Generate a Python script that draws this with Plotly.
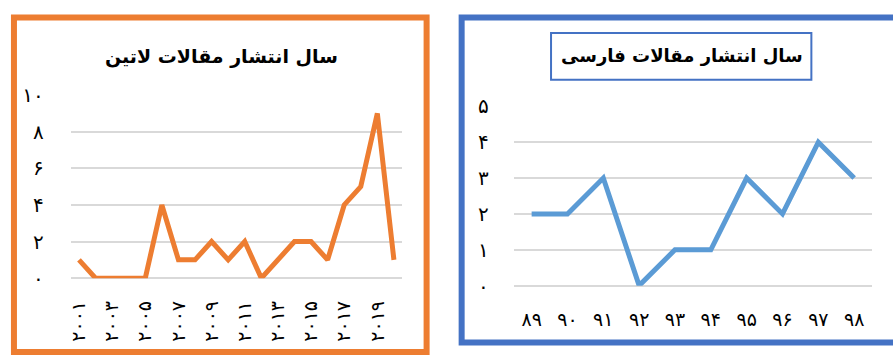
import plotly.graph_objects as go

# ---- data ----
latin_years = [str(y) for y in range(2001, 2021)]
latin_counts = [1, 0, 0, 0, 0, 4, 1, 1, 2, 1, 2, 0, 1, 2, 2, 1, 4, 5, 9, 1]
latin_tick_years = ["2001", "2003", "2005", "2007", "2009", "2011", "2013", "2015", "2017", "2019"]
latin_tick_text = ["۲۰۰۱", "۲۰۰۳", "۲۰۰۵", "۲۰۰۷", "۲۰۰۹", "۲۰۱۱", "۲۰۱۳", "۲۰۱۵", "۲۰۱۷", "۲۰۱۹"]
latin_y_vals = [0, 2, 4, 6, 8, 10]
latin_y_text = ["۰", "۲", "۴", "۶", "۸", "۱۰"]

farsi_years = ["89", "90", "91", "92", "93", "94", "95", "96", "97", "98"]
farsi_counts = [2, 2, 3, 0, 1, 1, 3, 2, 4, 3]
farsi_tick_text = ["۸۹", "۹۰", "۹۱", "۹۲", "۹۳", "۹۴", "۹۵", "۹۶", "۹۷", "۹۸"]
farsi_y_vals = [0, 1, 2, 3, 4, 5]
farsi_y_text = ["۰", "۱", "۲", "۳", "۴", "۵"]

title_latin = "سال انتشار مقالات لاتین"
title_farsi = "سال انتشار مقالات فارسی"

ORANGE = "#ED7D31"
BLUE_LINE = "#5B9BD5"
BLUE_BORDER = "#4472C4"
GRID = "#D9D9D9"
FONT = "DejaVu Sans, Noto Sans, sans-serif"

W, H = 893, 363

def px(x):
    return x / W

def py(y):
    return 1 - y / H

fig = go.Figure()
fig.add_trace(go.Scatter(x=latin_years, y=latin_counts, mode="lines",
                         line=dict(color=ORANGE, width=5), xaxis="x", yaxis="y",
                         showlegend=False, hoverinfo="x+y"))
fig.add_trace(go.Scatter(x=farsi_years, y=farsi_counts, mode="lines",
                         line=dict(color=BLUE_LINE, width=5), xaxis="x2", yaxis="y2",
                         showlegend=False, hoverinfo="x+y"))

fig.update_layout(
    width=W, height=H, margin=dict(l=0, r=0, t=0, b=0),
    paper_bgcolor="white", plot_bgcolor="white",
    font=dict(family=FONT, color="black"),
    xaxis=dict(domain=[px(67), px(400)], type="category", range=[-0.5, 19.5],
               tickvals=latin_tick_years, ticktext=latin_tick_text, tickangle=-90,
               tickfont=dict(size=19), showgrid=False, zeroline=False, showline=False,
               ticks="", ticklabelstandoff=18, fixedrange=True),
    yaxis=dict(domain=[py(285), py(89)], range=[0, 10], tickvals=latin_y_vals,
               ticktext=latin_y_text, showgrid=True, gridcolor=GRID, gridwidth=1.5,
               zeroline=True, zerolinecolor=GRID, zerolinewidth=1.5,
               showline=False, ticks="", tickfont=dict(size=20),
               ticklabelstandoff=26, fixedrange=True),
    xaxis2=dict(domain=[px(512), px(872)], type="category", range=[-0.5, 9.5],
                tickvals=farsi_years, ticktext=farsi_tick_text, tickangle=0,
                tickfont=dict(size=19), showgrid=False, zeroline=False, showline=False,
                ticks="", ticklabelstandoff=20, anchor="y2", fixedrange=True),
    yaxis2=dict(domain=[py(293), py(101)], range=[0, 5], tickvals=farsi_y_vals,
                ticktext=farsi_y_text, showgrid=True, gridcolor=GRID, gridwidth=1.5,
                zeroline=True, zerolinecolor=GRID, zerolinewidth=1.5,
                showline=False, ticks="", tickfont=dict(size=20),
                ticklabelstandoff=24, anchor="x2", fixedrange=True),
)

shapes = [
    dict(type="rect", xref="paper", yref="paper", x0=px(10), x1=px(424.5), y0=py(364), y1=py(6),
         line=dict(color=ORANGE, width=6), fillcolor="rgba(0,0,0,0)", layer="above"),
    dict(type="rect", xref="paper", yref="paper", x0=px(459.7), x1=px(898), y0=py(354), y1=py(6),
         line=dict(color=BLUE_BORDER, width=6), fillcolor="rgba(0,0,0,0)", layer="above"),
    dict(type="rect", xref="paper", yref="paper", x0=px(549.5), x1=px(811), y0=py(72.5), y1=py(22.5),
         line=dict(color=BLUE_BORDER, width=2), fillcolor="rgba(0,0,0,0)", layer="above"),
]
fig.update_layout(shapes=shapes)

fig.add_annotation(text="<b>" + title_latin + "</b>", xref="paper", yref="paper",
                   x=px(218), y=py(48), showarrow=False, font=dict(size=19, family=FONT),
                   xanchor="center", yanchor="middle")
fig.add_annotation(text="<b>" + title_farsi + "</b>", xref="paper", yref="paper",
                   x=px(681), y=py(47), showarrow=False, font=dict(size=18, family=FONT),
                   xanchor="center", yanchor="middle")

fig.write_html("out.html")
